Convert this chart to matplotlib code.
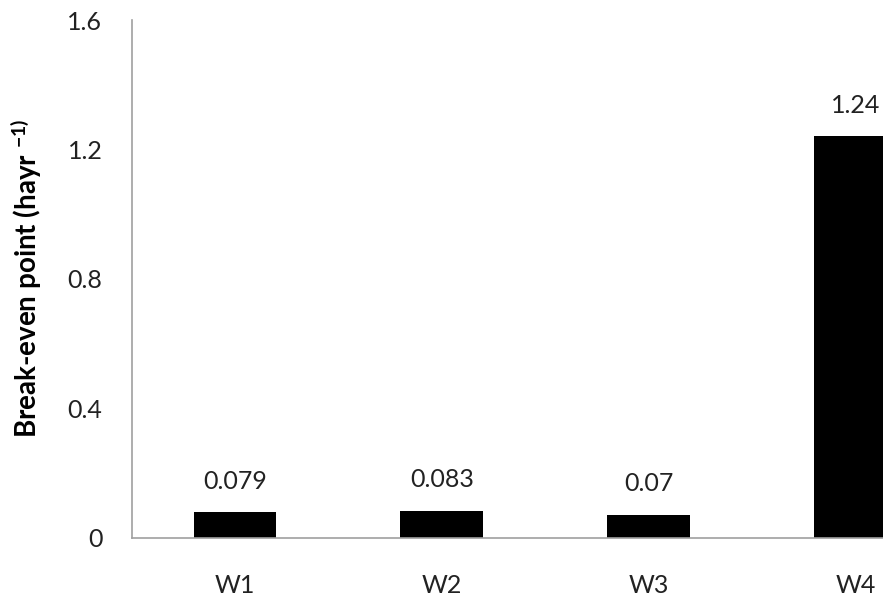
import matplotlib.pyplot as plt
import numpy as np

plt.rcParams['font.family'] = ['Lato', 'DejaVu Sans']
plt.rcParams['mathtext.fontset'] = 'custom'
plt.rcParams['mathtext.rm'] = 'Lato:bold'
plt.rcParams['mathtext.default'] = 'rm'

categories = ['W1', 'W2', 'W3', 'W4']
values = [0.079, 0.083, 0.07, 1.24]
labels = ['0.079', '0.083', '0.07', '1.24']
yticks = [0, 0.4, 0.8, 1.2, 1.6]
ytick_labels = ['0', '0.4', '0.8', '1.2', '1.6']

W, H = 883, 598
fig = plt.figure(figsize=(W / 100, H / 100), dpi=100)
# axes runs past the right edge of the picture, as in the original
ax = fig.add_axes([131.5 / W, 60.5 / H, 827.5 / W, 517.5 / H])

x = np.arange(len(categories))
ax.bar(x, values, width=0.4, color='black')
for xi, v, lab in zip(x, values, labels):
    ax.annotate(lab, (xi, v), xytext=(0, 14), textcoords='offset points',
                ha='center', va='bottom', fontsize=18, color='#222222')

ax.set_xlim(-0.5, len(categories) - 0.5)
ax.set_ylim(0, 1.6)
ax.set_xticks(x)
ax.set_xticklabels(categories)
ax.set_yticks(yticks)
ax.set_yticklabels(ytick_labels)
ax.tick_params(axis='x', length=0, pad=26, labelsize=18, labelcolor='#222222')
ax.tick_params(axis='y', length=0, pad=21, labelsize=18, labelcolor='#222222')

for s in ['top', 'right']:
    ax.spines[s].set_visible(False)
for s in ['left', 'bottom']:
    ax.spines[s].set_color('#a0a0a0')
    ax.spines[s].set_linewidth(1.2)

ax.set_ylabel('Break-even point (hayr $^{-1)}$', fontsize=20, fontweight='bold',
              va='center')
ax.yaxis.set_label_coords(-105.0 / 827.5, 0.5)

fig.savefig('out.png', dpi=100)
